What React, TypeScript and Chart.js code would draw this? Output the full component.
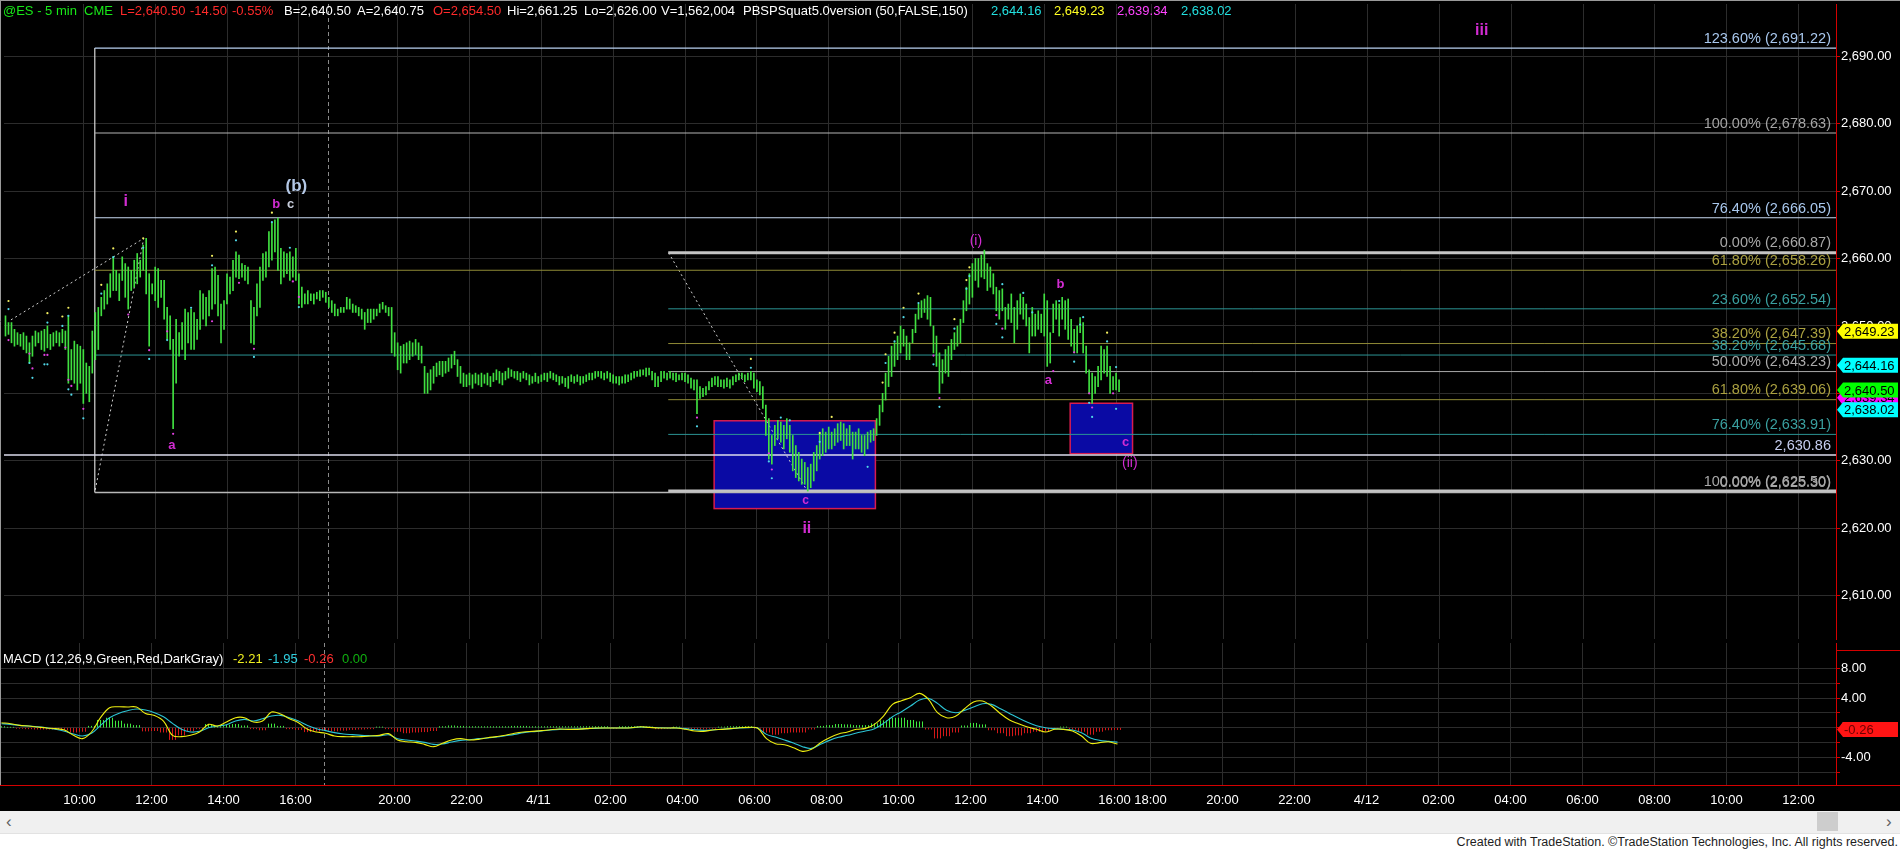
import React, { useEffect, useRef } from 'react';
import { Chart, registerables } from 'chart.js';
Chart.register(...registerables);

const FONT = '"Liberation Sans", Arial, Helvetica, sans-serif';

// ---------------- DATA ----------------
// 5-minute bars (high / low), oldest first
const HI = [
  2651.5, 2650.5, 2650.5, 2649.5, 2649, 2648.75, 2649, 2648.5, 2647.5, 2648.5,
  2649.25, 2649, 2649.25, 2649.5, 2650, 2648.75, 2649, 2649.25, 2649, 2649.5,
  2649.25, 2651.5, 2646.5, 2647.75, 2647.25, 2647, 2646.5, 2644.5, 2644, 2649.25,
  2652, 2652.75, 2654.25, 2655.25, 2656.25, 2657.75, 2660.25, 2658.25, 2657.75, 2660.25,
  2659.25, 2658.75, 2658.25, 2659.75, 2660.75, 2659.75, 2662, 2663, 2657.75, 2656.25,
  2658.75, 2658.5, 2656.75, 2656.75, 2652.75, 2651.5, 2648, 2651, 2649, 2650.5,
  2652.5, 2652, 2652.5, 2652, 2651, 2655.25, 2654.75, 2654.25, 2655.25, 2658.5,
  2658.75, 2657.5, 2653.25, 2653.75, 2657.75, 2657.25, 2659.75, 2661, 2660.5, 2659.25,
  2659, 2658.75, 2653.75, 2652.75, 2656.25, 2658.75, 2660.75, 2661, 2664, 2665.25,
  2665.75, 2666, 2661.5, 2661, 2660.75, 2661, 2660.25, 2661.5, 2657.75, 2655.75,
  2654.75, 2655.25, 2654.75, 2654.75, 2655, 2655.25, 2655.25, 2655, 2654.25, 2653.75,
  2653.25, 2652.5, 2652.75, 2652.75, 2654.25, 2654, 2653.25, 2653, 2652.75,
  2652.5, 2652, 2652.5, 2652.5, 2652.5, 2652.5, 2653.25, 2653.5, 2653, 2652.75,
  2652.75, 2649, 2647.5, 2647,
  2647.25, 2647.5, 2647.75, 2647.5, 2648, 2647.5, 2647, 2644, 2643, 2643.5,
  2644, 2644.5, 2644.75, 2644.75, 2644.75, 2645.25, 2645.75, 2646.25, 2645, 2644,
  2643, 2642.75, 2643, 2642.75, 2643, 2642.75, 2643, 2642.75, 2643, 2642.5,
  2643, 2643.5, 2643.25, 2643, 2643.25, 2643.75, 2643.5, 2643.25, 2643.25, 2643,
  2643.25, 2643, 2642.75, 2642.5, 2643, 2642.5, 2642.75, 2643, 2643, 2643.25,
  2643, 2642.75, 2642.5, 2642.5, 2642.25, 2642.5, 2642.75, 2642.5, 2642.75, 2642.5,
  2642.5, 2642.75, 2643, 2643, 2643.25, 2643.25, 2643.25, 2643, 2643.25,
  2643, 2642.75, 2642.5, 2642.5, 2642.5, 2642.75, 2642.75, 2643, 2643.25, 2643.25,
  2643.5, 2643.5, 2643.75, 2643.75, 2643.25, 2643, 2642.5, 2643.25, 2643.25, 2643,
  2643.25, 2643, 2643, 2642.75, 2643, 2643, 2642.75, 2642.25, 2642, 2642,
  2641, 2640.75, 2641, 2641.75, 2642.25, 2642.5, 2642.5, 2642, 2642, 2642.25,
  2642, 2642.5, 2642.75, 2643, 2643, 2642.75, 2643, 2643.25, 2643, 2642,
  2641.75, 2641, 2638.25, 2636.25, 2633.75, 2635.25, 2636, 2635.75, 2635.25, 2636.25,
  2635.25, 2633.75, 2632.25, 2631.25,
  2630.25, 2629.75, 2629, 2629.5, 2631.25, 2632.25, 2634.25, 2634.75, 2634.25, 2635,
  2634.25, 2634.75, 2635.5, 2635.75, 2635.5, 2634.75, 2635.25, 2634.25, 2634.25, 2634.75,
  2633.75, 2633.75, 2634.25, 2634.5, 2634.75, 2636.25, 2638.25, 2640, 2643, 2645.5,
  2647, 2647.5, 2648.5, 2650, 2649.5, 2648.5, 2647.5, 2649.5, 2651.75, 2653.25,
  2653.75, 2654, 2654.5, 2654.25, 2650, 2648.5, 2646, 2645, 2646.5, 2647,
  2648, 2649, 2650, 2651, 2653.75, 2655.75, 2657.75, 2659.25, 2660, 2660,
  2660.5, 2661.25, 2659.25, 2658.75, 2657.75, 2655.75, 2655.25, 2655.5, 2652.75, 2653.25,
  2654.75, 2652.75, 2653.75, 2654.75, 2654.25, 2653.25, 2651.25, 2652.75, 2651.75, 2652.25,
  2651.75, 2654.75, 2653.75, 2649, 2653.25, 2653.75, 2653.25, 2654.25, 2653.75, 2654,
  2651, 2649.5, 2650, 2651.25, 2650.5, 2647, 2643.5, 2643, 2642.5, 2644,
  2647, 2646.5, 2647, 2644, 2642.5, 2643, 2642,
];
const LO = [
  2648.5, 2648.75, 2647.5, 2647, 2647.25, 2647, 2646.5, 2646, 2644.5, 2645.5,
  2647, 2647.5, 2646.5, 2646.25, 2646.75, 2646.5, 2647, 2647.5, 2647, 2647.5,
  2646.5, 2641.5, 2642, 2641.5, 2640.5, 2641.5, 2638.5, 2640, 2638.75, 2643,
  2645, 2646.5, 2651.5, 2652.5, 2653.25, 2654.25, 2655.25, 2655.25, 2653.75, 2656.75,
  2654.25, 2652.5, 2655.25, 2655.75, 2656.25, 2657.25, 2658.25, 2654.75, 2647, 2654.75,
  2653.75, 2652.75, 2654.25, 2651, 2648, 2646.5, 2634.75, 2641.5, 2645.5, 2646.5,
  2645, 2647.5, 2646.5, 2646.5, 2648, 2649.5, 2651, 2650, 2651.5, 2652.5,
  2653.25, 2651.5, 2647.5, 2649.5, 2653.25, 2654.75, 2655.25, 2657.25, 2657, 2657.25,
  2656.75, 2656.25, 2647.5, 2647.25, 2651.5, 2652.75, 2656.75, 2657.25, 2658.75, 2659.75,
  2661, 2658.25, 2656.25, 2657.25, 2657.75, 2656.75, 2657.25, 2656.75, 2653.25, 2652.75,
  2653.25, 2653.25, 2653.75, 2653.25, 2654, 2653.75, 2654.25, 2653.5, 2652.75, 2652,
  2651.5, 2651.5, 2652, 2652, 2652.5, 2652.5, 2652, 2652, 2651.5,
  2651, 2649.5, 2650.5, 2650.5, 2651, 2651.5, 2652, 2652.5, 2652, 2651.5,
  2646, 2645.5, 2643.5, 2643,
  2644.5, 2644.5, 2645, 2645.5, 2645.75, 2645, 2644.5, 2640, 2640, 2640.5,
  2641.5, 2642.5, 2642.75, 2642.5, 2643, 2643.25, 2643.75, 2644.25, 2642.5, 2641.5,
  2641, 2641, 2641.25, 2640.75, 2641.5, 2641.25, 2641, 2641.5, 2641.25, 2641,
  2641.75, 2642, 2641.5, 2641.25, 2642, 2642.25, 2642.5, 2642.25, 2642, 2641.75,
  2642.25, 2642, 2641.25, 2641.5, 2641.75, 2641.5, 2641.75, 2642, 2641.75, 2642.25,
  2642, 2641.75, 2641.25, 2641.5, 2641, 2640.75, 2641.75, 2641.5, 2641.75, 2641.25,
  2641.5, 2641.75, 2642, 2642, 2642.25, 2642.5, 2642.25, 2642, 2642.25,
  2641.75, 2641.5, 2641.5, 2641.25, 2641.5, 2641.5, 2641.75, 2642, 2642.25, 2642.5,
  2642.5, 2642.75, 2642.5, 2642.75, 2642, 2641, 2641, 2641.75, 2642.25, 2642,
  2642.25, 2642, 2641.75, 2642, 2642, 2641.75, 2641.5, 2640.75, 2640.5, 2637,
  2639.25, 2639.5, 2639.75, 2640.5, 2641, 2641.25, 2641, 2641, 2640.75, 2641,
  2640.75, 2641.25, 2641.75, 2642, 2642.25, 2641.75, 2642, 2642, 2640.75, 2640.25,
  2639.75, 2637.75, 2633.75, 2630.25, 2629.5, 2632.25, 2633.25, 2632.75, 2631.75, 2633.25,
  2631.25, 2628.5, 2627.5, 2627,
  2626.5, 2626.5, 2625.5, 2626, 2627, 2628.5, 2630.25, 2630.75, 2631.25, 2631.75,
  2631.75, 2632.25, 2632.75, 2633, 2631.75, 2632.25, 2632.25, 2630.25, 2631.75, 2631.75,
  2631.25, 2630.75, 2631.75, 2632.75, 2633, 2633.75, 2635.25, 2637.25, 2639, 2641,
  2642.5, 2644, 2645, 2646, 2647, 2645, 2645, 2647.5, 2649, 2651,
  2651.25, 2652, 2651, 2650, 2646, 2644, 2640, 2641.5, 2643, 2642.5,
  2645, 2646.5, 2647, 2647.5, 2650.5, 2652.25, 2653.25, 2654.25, 2656.75, 2655.75,
  2657.25, 2657, 2655.25, 2655.75, 2654.75, 2652.25, 2651, 2652.25, 2649.5, 2651,
  2650.5, 2647.5, 2649.5, 2651.75, 2651, 2650, 2646, 2648.5, 2648.5, 2649.5,
  2649, 2648.5, 2644, 2644.5, 2649, 2651, 2648.5, 2651, 2649.5, 2648,
  2647, 2646, 2646, 2649, 2646, 2643, 2640, 2638.5, 2640, 2641,
  2642, 2643, 2642.5, 2640, 2640.5, 2640.5, 2640.25,
];

// MACD (12,26,9) sampled every third bar (15 minutes)
const MACD_LINE = [
  0.67, 0.54, 0.31, 0.22, 0.09, -0.04, -0.13, -0.31, -1.03, -1.48,
  -0.58, 1.35, 2.70, 2.83, 2.79, 2.79, 1.93, 1.66, 0.90, -1.03,
  -1.21, -1.03, -0.58, 0.45, 0.22, 0.76, 1.35, 1.35, 0.76, 0.90,
  2.11, 1.84, 1.21, 0.67, -0.22, -0.58, -0.76, -1.12, -1.21, -1.21,
  -1.21, -1.12, -1.03, -0.80, -1.66, -1.89, -1.98, -2.25, -2.56, -2.11,
  -1.66, -1.48, -1.66, -1.57, -1.35, -1.21, -1.03, -0.76, -0.58, -0.49,
  -0.40, -0.27, -0.18, -0.22,
  -0.22, -0.13, -0.04, -0.04, -0.04, -0.04, 0, 0.13, 0.04, -0.04,
  -0.04, -0.04, -0.22, -0.45, -0.49, -0.31, -0.22, -0.13, 0, 0.04,
  -0.04, -1.48, -2.16, -2.29, -2.70, -3.19, -2.92, -2.02, -1.35, -0.85,
  -0.58, -0.22, -0.09, 0.45, 1.57, 3.15, 3.64, 4.05, 4.63, 3.82,
  2.02, 1.35, 1.53, 2.56, 3.46, 3.60, 2.92, 1.89, 1.03, 0.54,
  0.09, -0.22, -0.58, -0.22, -0.22, -0.45, -1.12, -2.11, -2.02, -1.90, -2.21,
];
const SIGNAL_LINE = [
  0.54, 0.45, 0.31, 0.22, 0.13, 0, -0.22, -0.49, -0.85, -1.12,
  -0.76, 0.31, 1.35, 1.93, 2.29, 2.52, 2.38, 2.02, 1.48, 0.58,
  -0.22, -0.58, -0.49, 0, 0.22, 0.40, 0.90, 1.12, 0.90, 1.21,
  1.57, 1.66, 1.35, 0.90, 0.31, -0.13, -0.40, -0.67, -0.85, -0.94,
  -1.03, -1.08, -1.12, -0.95, -1.48, -1.66, -1.80, -1.98, -2.25, -2.20,
  -1.93, -1.71, -1.62, -1.48, -1.39, -1.26, -1.08, -0.90, -0.67, -0.54,
  -0.45, -0.31, -0.22, -0.22,
  -0.18, -0.13, -0.09, -0.04, -0.04, -0.04, 0, 0.09, 0.04, 0,
  -0.04, -0.04, -0.13, -0.27, -0.36, -0.31, -0.22, -0.13, -0.04, 0,
  -0.04, -0.90, -1.26, -1.66, -2.07, -2.56, -2.79, -2.25, -1.71, -1.30,
  -1.03, -0.72, -0.45, -0.13, 0.58, 1.48, 2.16, 2.92, 3.73, 3.96,
  3.28, 2.34, 2.02, 2.34, 2.79, 3.24, 3.15, 2.56, 1.93, 1.30,
  0.72, 0.27, 0, -0.13, -0.22, -0.31, -0.67, -1.39, -1.71, -1.84, -1.95,
];
const MACD_HIST = [
  0.15, 0.05, -0.1, -0.15, -0.2, -0.2, -0.2, -0.3, -0.6, -0.5,
  0.2, 1.0, 1.3, 0.9, 0.5, 0.3, -0.45, -0.4, -0.6, -1.6,
  -1.0, -0.45, -0.15, 0.45, 0.15, 0.35, 0.45, 0.25, -0.15, -0.3,
  0.5, 0.2, -0.15, -0.25, -0.55, -0.45, -0.35, -0.45, -0.35, -0.25,
  -0.2, -0.15, 0.1, -0.15, -0.5, -0.7, -0.6, -0.55, -0.4, 0.15,
  0.25, 0.2, 0.15, 0.15, 0.15, 0.15, 0.15, 0.2, 0.2, 0.15,
  0.15, 0.15, 0.15, 0.15,
  0.15, 0.15, 0.15, 0.15, -0.1, 0.15, 0.15, 0.15, 0.1, -0.15,
  -0.1, 0.1, -0.15, -0.2, -0.2, -0.1, 0.1, 0.15, 0.15, 0.15,
  -0.1, -0.6, -0.9, -0.7, -0.6, -0.6, -0.2, 0.2, 0.3, 0.45,
  0.4, 0.3, 0.3, 0.55, 0.95, 1.3, 1.3, 1.0, 0.8, -0.2,
  -1.4, -1.1, -0.6, 0.25, 0.6, 0.4, -0.3, -0.7, -1.1, -1.0,
  -0.7, -0.5, -0.5, -0.1, 0.1, -0.2, -0.5, -0.9, -0.5, -0.3, -0.26,
];
const MACD_STEP = 3; // bars per MACD sample

// time axis (bar index units)
const TIME_TICKS = [26, 50, 74, 98, 131, 155, 179, 203, 227, 251, 275, 299, 323, 347, 371, 383, 407, 431, 455, 479, 503, 527, 551, 575, 599];
const TIME_LABELS = ['10:00', '12:00', '14:00', '16:00', '20:00', '22:00', '4/11', '02:00', '04:00', '06:00', '08:00', '10:00', '12:00', '14:00', '16:00', '18:00', '20:00', '22:00', '4/12', '02:00', '04:00', '06:00', '08:00', '10:00', '12:00'];
const SESSION_BREAK = 107.6;
const X_MIN = -0.5;
const X_MAX = 611.5;

const PRICE_TICKS = [2610, 2620, 2630, 2640, 2650, 2660, 2670, 2680, 2690];
const PRICE_MIN = 2603.553;
const PRICE_MAX = 2697.766;
const MACD_TICKS = [-6, -4, -2, 0, 2, 4, 6, 8];
const MACD_LABELED = [8, 4, 0, -4];
const MACD_MIN = -7.733;
const MACD_MAX = 11.43;

// Fibonacci tools
const FIB_A_START = 29.83;
const FIB_A_LEVELS = [2625.30, 2645.68, 2658.26, 2666.05, 2678.63, 2691.22];
const FIB_A_PCTS = ['0.00%', '38.20%', '61.80%', '76.40%', '100.00%', '123.60%'];
const FIB_B_START = 221.4;
const FIB_B_LEVELS = [2660.87, 2652.54, 2647.39, 2643.23, 2639.06, 2633.91, 2625.50];
const FIB_B_PCTS = ['0.00%', '23.60%', '38.20%', '50.00%', '61.80%', '76.40%', '100.00%'];
const HLINE_LEVEL = 2630.86;
const FIB_A_TREND = [[1.83, 2650.9], [46.17, 2663.0], [29.83, 2625.3]];
const FIB_B_TREND = [[221.5, 2660.87], [267.83, 2625.5]];

// boxes: [x0, x1, top price, bottom price]
const ZONES = [[236.73, 290.6, 2635.93, 2622.9], [355.67, 376.5, 2638.53, 2631.05]];

// wave labels
const WAVE_TEXT = ['i', '(b)', 'b', 'c', 'a', 'iii', 'ii', 'c', '(i)', 'b', 'a', 'c', '(ii)'];
const WAVE_X = [40.17, 97.17, 90.4, 95.27, 55.6, 493.17, 267.7, 267.27, 324.17, 352.4, 348.4, 374.17, 375.6];
const WAVE_Y = [2668.46, 2670.66, 2667.98, 2667.98, 2632.31, 2693.85, 2620.0, 2624.02, 2662.6, 2656.15, 2641.9, 2632.67, 2629.63];

// indicator dots [bar, price]
const YELLOW_DOTS = [[1, 2653.7], [14, 2651.9], [21, 2652.7], [19, 2651.4], [36, 2661.5], [32, 2656.1], [46, 2663.0], [69, 2660.4], [77, 2664.0], [89, 2666.8],
  [249, 2645.1], [272, 2634.1], [276, 2636.5], [293, 2641.6], [294, 2645.8], [297, 2649.0], [300, 2652.7], [305, 2654.8], [317, 2651.0], [321, 2656.8], [322, 2658.7], [368, 2649.0]];
const CYAN_DOTS = [[1, 2652.5], [14, 2650.5], [21, 2651.5], [19, 2650.0], [36, 2660.2], [32, 2654.8], [46, 2661.6], [69, 2659.0], [77, 2662.7], [89, 2665.4], [95, 2661.6], [98, 2652.8], [62, 2652.7], [83, 2645.4], [48, 2645.1], [54, 2647.9], [8, 2644.5], [9, 2642.3], [13, 2644.3], [14, 2644.3], [21, 2640.6], [22, 2639.8], [26, 2636.3],
  [231, 2635.1], [249, 2643.8], [259, 2636.4], [262, 2636.0], [255, 2629.9], [256, 2627.4], [272, 2632.8], [288, 2629.1], [294, 2644.5], [297, 2647.7], [300, 2651.3], [305, 2653.4], [310, 2644.3], [312, 2638.0], [317, 2649.6], [321, 2655.5], [322, 2657.4], [333, 2656.2], [331, 2650.3], [333, 2648.3], [340, 2654.9], [343, 2652.0], [352, 2653.7], [360, 2651.3], [359, 2650.2], [357, 2644.7], [362, 2638.6], [363, 2636.5], [368, 2647.7], [371, 2643.9], [371, 2637.7]];
const MAGENTA_DOTS = [[1, 2647.9], [8, 2645.9], [9, 2643.7], [13, 2645.7], [14, 2645.7], [20, 2646.8], [21, 2642.0], [22, 2641.1], [26, 2637.7], [41, 2651.7], [48, 2646.4], [54, 2649.2], [56, 2634.0], [69, 2650.7], [78, 2656.4], [83, 2646.6], [96, 2656.6], [98, 2654.3],
  [231, 2636.4], [255, 2631.1], [256, 2628.7], [310, 2645.6], [312, 2639.3], [331, 2651.6], [333, 2649.6], [350, 2643.3], [357, 2646.1], [362, 2640.0], [363, 2637.9], [370, 2640.0]];

// right-axis last-value tags (drawn in this order)
const TAG_VALUES = [2649.23, 2644.16, 2639.34, 2640.50, 2638.02];

// header
const HEADER_TEXT = ['@ES - 5 min', 'CME', 'L=2,640.50', '-14.50', '-0.55%', 'B=2,640.50', 'A=2,640.75', 'O=2,654.50', 'Hi=2,661.25', 'Lo=2,626.00', 'V=1,562,004', 'PBSPSquat5.0version (50,FALSE,150)', '2,644.16', '2,649.23', '2,639.34', '2,638.02'];
const MACD_TITLE_TEXT = ['MACD (12,26,9,Green,Red,DarkGray)', '-2.21', '-1.95', '-0.26', '0.00'];

// ---------------- STYLES ----------------
const BG = '#000000';
const GRID = '#2c2c2c';
const AXIS_RED = '#d40000';
const BAR_COLOR = '#40e040';
const MAGENTA = '#d22cd2';
const HEADER_X = [3, 84, 120, 190, 232, 284, 357, 433, 507, 584, 661, 743, 991, 1054, 1117, 1181];
const HEADER_COLOR = ['#18e818', '#18e818', '#ff2a2a', '#ff2a2a', '#ff2a2a', '#fff', '#fff', '#ff2a2a', '#fff', '#fff', '#fff', '#fff', '#22e0e0', '#ffff22', '#ff44ff', '#22e0e0'];
const MACD_TITLE_X = [3, 233, 268, 304, 342];
const MACD_TITLE_COLOR = ['#fff', '#f0f020', '#30d0e0', '#ff3030', '#10b010'];
const FIB_A_STYLE = [
  { line: '#b8b8b8', width: 1.5, text: '#a8a8a8' },
  { line: '#2b9494', width: 1, text: '#3aa0a0' },
  { line: '#8f8a36', width: 1, text: '#aaa040' },
  { line: '#c8daf2', width: 1.2, text: '#a9c8ee' },
  { line: '#b4b4b4', width: 1.2, text: '#a4a4a4' },
  { line: '#b8d0f0', width: 1.2, text: '#a9c8ee' },
];
const FIB_B_STYLE = [
  { line: '#c4c4c4', width: 3, text: '#a8a8a8' },
  { line: '#2b9494', width: 1, text: '#3aa0a0' },
  { line: '#8f8a36', width: 1, text: '#aaa040' },
  { line: '#a8a8a8', width: 1, text: '#aaaaaa' },
  { line: '#8f8a36', width: 1, text: '#aaa040' },
  { line: '#2b9494', width: 1, text: '#3aa0a0' },
  { line: '#c4c4c4', width: 3, text: '#a8a8a8' },
];
const HLINE_STYLE = { line: '#dcdcec', width: 1.5, text: '#c6cef0' };
const WAVE_STYLE = [
  { font: `bold 16px ${FONT}`, color: MAGENTA },
  { font: `bold 17px ${FONT}`, color: '#b4c8e6' },
  { font: `bold 13px ${FONT}`, color: MAGENTA },
  { font: `bold 13px ${FONT}`, color: '#c8cedc' },
  { font: `bold 13px ${FONT}`, color: MAGENTA },
  { font: `bold 16px ${FONT}`, color: MAGENTA },
  { font: `bold 16px ${FONT}`, color: MAGENTA },
  { font: `bold 12px ${FONT}`, color: MAGENTA },
  { font: `14px ${FONT}`, color: MAGENTA },
  { font: `bold 13px ${FONT}`, color: MAGENTA },
  { font: `bold 13px ${FONT}`, color: MAGENTA },
  { font: `bold 13px ${FONT}`, color: MAGENTA },
  { font: `14px ${FONT}`, color: MAGENTA },
];
const TAG_BG = ['#ffff00', '#00ffff', '#ff00ff', '#00ff00', '#00ffff'];
const TAG_SHIFT = [0, 0, 0, 0, 3];

const fmt2 = (v: number) => v.toLocaleString('en-US', { minimumFractionDigits: 2, maximumFractionDigits: 2 });

function drawTag(ctx: CanvasRenderingContext2D, x0: number, yc: number, text: string, bg: string, fg: string) {
  const h = 15, w = 61;
  ctx.fillStyle = bg;
  ctx.beginPath();
  ctx.moveTo(x0, yc);
  ctx.lineTo(x0 + 6, yc - h / 2);
  ctx.lineTo(x0 + w, yc - h / 2);
  ctx.lineTo(x0 + w, yc + h / 2);
  ctx.lineTo(x0 + 6, yc + h / 2);
  ctx.closePath();
  ctx.fill();
  ctx.fillStyle = fg;
  ctx.font = `13px ${FONT}`;
  ctx.textAlign = 'left';
  ctx.textBaseline = 'middle';
  ctx.fillText(text, x0 + 7, yc + 1);
}

function sessionLine(chart: any) {
  const { ctx, chartArea, scales } = chart;
  const px = Math.round(scales.x.getPixelForValue(SESSION_BREAK)) + 0.5;
  ctx.save();
  ctx.strokeStyle = '#8a8a8a';
  ctx.lineWidth = 1;
  ctx.setLineDash([4, 3]);
  ctx.beginPath();
  ctx.moveTo(px, chartArea.top);
  ctx.lineTo(px, chartArea.bottom);
  ctx.stroke();
  ctx.restore();
}

function hLine(x0: number, level: number, style: any, order = 5) {
  return {
    type: 'line',
    data: [{ x: x0, y: level }, { x: X_MAX, y: level }],
    borderColor: style.line,
    borderWidth: style.width,
    pointRadius: 0,
    tension: 0,
    order,
  };
}

function xAxis(showLabels: boolean, height: number) {
  return {
    type: 'linear',
    min: X_MIN,
    max: X_MAX,
    offset: false,
    afterBuildTicks: (s: any) => { s.ticks = TIME_TICKS.map((v) => ({ value: v })); },
    ticks: {
      display: showLabels,
      autoSkip: false,
      maxRotation: 0,
      color: '#ffffff',
      font: { family: FONT, size: 13 },
      padding: 8,
      callback: (_v: any, i: number) => TIME_LABELS[i],
    },
    grid: { color: GRID, drawTicks: false, offset: false, lineWidth: 1 },
    border: { display: false },
    afterFit: (s: any) => { s.height = height; s.paddingLeft = 0; s.paddingRight = 0; },
  };
}

function buildPriceConfig() {
  const datasets: any[] = [];
  datasets.push({
    type: 'bar',
    data: HI.map((h, i) => ({ x: i, y: [LO[i], h] })),
    backgroundColor: BAR_COLOR,
    barThickness: 1,
    borderWidth: 0,
    grouped: false,
    order: 2,
  });
  FIB_A_LEVELS.forEach((lv, j) => datasets.push(hLine(FIB_A_START, lv, FIB_A_STYLE[j])));
  FIB_B_LEVELS.forEach((lv, j) => datasets.push(hLine(FIB_B_START, lv, FIB_B_STYLE[j])));
  datasets.push(hLine(X_MIN, HLINE_LEVEL, HLINE_STYLE));
  datasets.push({
    type: 'line',
    data: [{ x: FIB_A_START, y: FIB_A_LEVELS[0] }, { x: FIB_A_START, y: FIB_A_LEVELS[FIB_A_LEVELS.length - 1] }],
    borderColor: '#d8d8d8', borderWidth: 1.2, pointRadius: 0, order: 5,
  });
  datasets.push({
    type: 'line',
    data: FIB_A_TREND.map(([x, y]) => ({ x, y })),
    borderColor: '#cfcfcf', borderWidth: 1, borderDash: [2, 3], pointRadius: 0, order: 5,
  });
  datasets.push({
    type: 'line',
    data: FIB_B_TREND.map(([x, y]) => ({ x, y })),
    borderColor: '#cfcfcf', borderWidth: 1, borderDash: [2, 3], pointRadius: 0, order: 5,
  });
  const dots = (arr: number[][], color: string) => ({
    type: 'scatter',
    data: arr.map(([x, y]) => ({ x, y })),
    pointRadius: 1.1,
    pointBackgroundColor: color,
    pointBorderWidth: 0,
    order: 0,
  });
  datasets.push(dots(YELLOW_DOTS, '#f4f060'));
  datasets.push(dots(CYAN_DOTS, '#50d8e8'));
  datasets.push(dots(MAGENTA_DOTS, '#e040e0'));

  const plugin = {
    id: 'pricePanel',
    beforeDraw(chart: any) {
      const { ctx, width, height } = chart;
      ctx.save();
      ctx.fillStyle = BG;
      ctx.fillRect(0, 0, width, height);
      ctx.restore();
    },
    beforeDatasetsDraw(chart: any) {
      const { ctx, scales: { x, y } } = chart;
      ctx.save();
      ZONES.forEach(([x0, x1, top, bot]) => {
        const l = x.getPixelForValue(x0), r = x.getPixelForValue(x1);
        const t = y.getPixelForValue(top), b = y.getPixelForValue(bot);
        ctx.fillStyle = '#0a0aa4';
        ctx.fillRect(l, t, r - l, b - t);
        ctx.strokeStyle = '#d81c50';
        ctx.lineWidth = 1.5;
        ctx.strokeRect(l, t, r - l, b - t);
      });
      ctx.restore();
      sessionLine(chart);
    },
    afterDatasetsDraw(chart: any) {
      const { ctx, chartArea, scales: { x, y } } = chart;
      ctx.save();
      ctx.textAlign = 'right';
      ctx.textBaseline = 'bottom';
      ctx.font = `14.5px ${FONT}`;
      const rx = chartArea.right - 5;
      FIB_A_LEVELS.forEach((lv, j) => {
        ctx.fillStyle = FIB_A_STYLE[j].text;
        ctx.fillText(`${FIB_A_PCTS[j]} (${fmt2(lv)})`, rx, y.getPixelForValue(lv) - 2);
      });
      FIB_B_LEVELS.forEach((lv, j) => {
        ctx.fillStyle = FIB_B_STYLE[j].text;
        ctx.fillText(`${FIB_B_PCTS[j]} (${fmt2(lv)})`, rx, y.getPixelForValue(lv) - 2);
      });
      ctx.fillStyle = HLINE_STYLE.text;
      ctx.fillText(fmt2(HLINE_LEVEL), rx, y.getPixelForValue(HLINE_LEVEL) - 2);
      ctx.textAlign = 'center';
      ctx.textBaseline = 'middle';
      WAVE_TEXT.forEach((t, j) => {
        ctx.font = WAVE_STYLE[j].font;
        ctx.fillStyle = WAVE_STYLE[j].color;
        ctx.fillText(t, x.getPixelForValue(WAVE_X[j]), y.getPixelForValue(WAVE_Y[j]));
      });
      ctx.restore();
    },
    afterDraw(chart: any) {
      const { ctx, chartArea, width, height, scales: { y } } = chart;
      ctx.save();
      TAG_VALUES.forEach((v, j) => {
        drawTag(ctx, chartArea.right + 1, y.getPixelForValue(v) + TAG_SHIFT[j], fmt2(v), TAG_BG[j], '#000');
      });
      ctx.strokeStyle = '#9a9a9a';
      ctx.lineWidth = 1;
      ctx.beginPath();
      ctx.moveTo(0, 0.5); ctx.lineTo(width, 0.5);
      ctx.moveTo(0.5, 0); ctx.lineTo(0.5, height);
      ctx.stroke();
      ctx.restore();
    },
  };

  return {
    type: 'bar',
    data: { datasets },
    options: {
      responsive: false,
      maintainAspectRatio: false,
      devicePixelRatio: 1,
      animation: false,
      events: [],
      layout: { padding: 0 },
      plugins: { legend: { display: false }, tooltip: { enabled: false } },
      scales: {
        x: xAxis(false, 0),
        y: {
          position: 'right',
          min: PRICE_MIN,
          max: PRICE_MAX,
          afterBuildTicks: (s: any) => { s.ticks = PRICE_TICKS.map((v) => ({ value: v })); },
          ticks: { color: '#ffffff', font: { family: FONT, size: 13 }, padding: 1, callback: (v: any) => fmt2(Number(v)) },
          grid: { color: GRID, tickColor: AXIS_RED, tickLength: 4, drawTicks: true },
          border: { color: AXIS_RED, width: 1 },
          afterFit: (s: any) => { s.width = 64; s.paddingTop = 0; s.paddingBottom = 0; },
        },
      },
    },
    plugins: [plugin],
  };
}

function makeStripe(color: string) {
  const c = document.createElement('canvas');
  c.width = 3;
  c.height = 1;
  const g = c.getContext('2d')!;
  g.fillStyle = color;
  g.fillRect(1, 0, 1, 1);
  return g.createPattern(c, 'repeat')!;
}

function buildMacdConfig() {
  const green = makeStripe('#3ee83e');
  const red = makeStripe('#d41818');
  const lastHist = MACD_HIST[MACD_HIST.length - 1];
  const plugin = {
    id: 'macdPanel',
    beforeDraw(chart: any) {
      const { ctx, width, height } = chart;
      ctx.save();
      ctx.fillStyle = BG;
      ctx.fillRect(0, 0, width, height);
      ctx.restore();
    },
    beforeDatasetsDraw(chart: any) { sessionLine(chart); },
    afterDraw(chart: any) {
      const { ctx, chartArea, width, scales: { y } } = chart;
      ctx.save();
      ctx.strokeStyle = AXIS_RED;
      ctx.lineWidth = 1;
      ctx.beginPath();
      ctx.moveTo(0, chartArea.bottom + 0.5);
      ctx.lineTo(width, chartArea.bottom + 0.5);
      ctx.moveTo(chartArea.right, 7.5);
      ctx.lineTo(width, 7.5);
      ctx.stroke();
      ctx.strokeStyle = '#9a9a9a';
      ctx.beginPath();
      ctx.moveTo(0.5, 0); ctx.lineTo(0.5, chartArea.bottom);
      ctx.stroke();
      drawTag(ctx, chartArea.right + 1, y.getPixelForValue(lastHist), lastHist.toFixed(2), '#ff1414', '#6a0000');
      ctx.restore();
    },
  };
  return {
    type: 'bar',
    data: {
      datasets: [
        {
          type: 'line',
          data: MACD_LINE.map((v, m) => ({ x: m * MACD_STEP, y: v })),
          borderColor: '#eeee10', borderWidth: 1.1, pointRadius: 0, tension: 0.35, order: 1,
        },
        {
          type: 'line',
          data: SIGNAL_LINE.map((v, m) => ({ x: m * MACD_STEP, y: v })),
          borderColor: '#2cc4d4', borderWidth: 1.1, pointRadius: 0, tension: 0.35, order: 2,
        },
        {
          type: 'bar',
          data: MACD_HIST.map((v, m) => ({ x: m * MACD_STEP, y: v })),
          backgroundColor: (c: any) => ((c.raw && c.raw.y >= 0) ? green : red),
          barThickness: 9,
          borderWidth: 0,
          grouped: false,
          order: 3,
        },
      ],
    },
    options: {
      responsive: false,
      maintainAspectRatio: false,
      devicePixelRatio: 1,
      animation: false,
      events: [],
      layout: { padding: 0 },
      plugins: { legend: { display: false }, tooltip: { enabled: false } },
      scales: {
        x: xAxis(true, 26),
        y: {
          position: 'right',
          min: MACD_MIN,
          max: MACD_MAX,
          afterBuildTicks: (s: any) => { s.ticks = MACD_TICKS.map((v) => ({ value: v })); },
          ticks: {
            color: '#ffffff', font: { family: FONT, size: 13 }, padding: 1,
            callback: (v: any) => (MACD_LABELED.includes(Number(v)) ? Number(v).toFixed(2) : ''),
          },
          grid: { color: GRID, tickColor: AXIS_RED, tickLength: 4, drawTicks: true },
          border: { color: AXIS_RED, width: 1 },
          afterFit: (s: any) => { s.width = 64; s.paddingTop = 0; s.paddingBottom = 0; },
        },
      },
    },
    plugins: [plugin],
  };
}

export default function App() {
  const priceRef = useRef<HTMLCanvasElement | null>(null);
  const macdRef = useRef<HTMLCanvasElement | null>(null);

  useEffect(() => {
    document.body.style.margin = '0';
    document.body.style.background = '#ffffff';
    const priceChart = new Chart(priceRef.current as HTMLCanvasElement, buildPriceConfig() as any);
    const macdChart = new Chart(macdRef.current as HTMLCanvasElement, buildMacdConfig() as any);
    return () => {
      priceChart.destroy();
      macdChart.destroy();
    };
  }, []);

  const textStyle = (left: number, top: number, color: string, size: number): React.CSSProperties => ({
    position: 'absolute', left, top, color, fontSize: size, lineHeight: '15px', whiteSpace: 'pre', fontFamily: FONT,
  });

  return (
    <div style={{ position: 'relative', width: 1900, height: 850, overflow: 'hidden', background: '#ffffff', fontFamily: FONT }}>
      <div style={{ position: 'absolute', left: 0, top: 0, width: 1900, height: 811, background: BG }} />
      <canvas ref={priceRef} width={1900} height={643} style={{ position: 'absolute', left: 0, top: 0 }} />
      <canvas ref={macdRef} width={1900} height={168} style={{ position: 'absolute', left: 0, top: 643 }} />
      {HEADER_TEXT.map((t, i) => (
        <div key={'h' + i} style={textStyle(HEADER_X[i], 3, HEADER_COLOR[i], 13)}>{t}</div>
      ))}
      {MACD_TITLE_TEXT.map((t, i) => (
        <div key={'m' + i} style={textStyle(MACD_TITLE_X[i], 651, MACD_TITLE_COLOR[i], 13)}>{t}</div>
      ))}
      <div style={{ position: 'absolute', left: 0, top: 811, width: 1900, height: 22, background: '#f0f0f0', borderBottom: '1px solid #e2e2e2' }}>
        <div style={{ position: 'absolute', left: 6, top: 1, fontSize: 17, color: '#606060', lineHeight: '20px' }}>‹</div>
        <div style={{ position: 'absolute', left: 1817, top: 1, width: 21, height: 19, background: '#cdcdcd' }} />
        <div style={{ position: 'absolute', left: 1886, top: 1, fontSize: 17, color: '#606060', lineHeight: '20px' }}>›</div>
      </div>
      <div style={{ position: 'absolute', right: 2, top: 835, fontSize: 12.5, lineHeight: '14px', color: '#1e1e1e', whiteSpace: 'pre', fontFamily: FONT }}>
        Created with TradeStation. ©TradeStation Technologies, Inc. All rights reserved.
      </div>
    </div>
  );
}
